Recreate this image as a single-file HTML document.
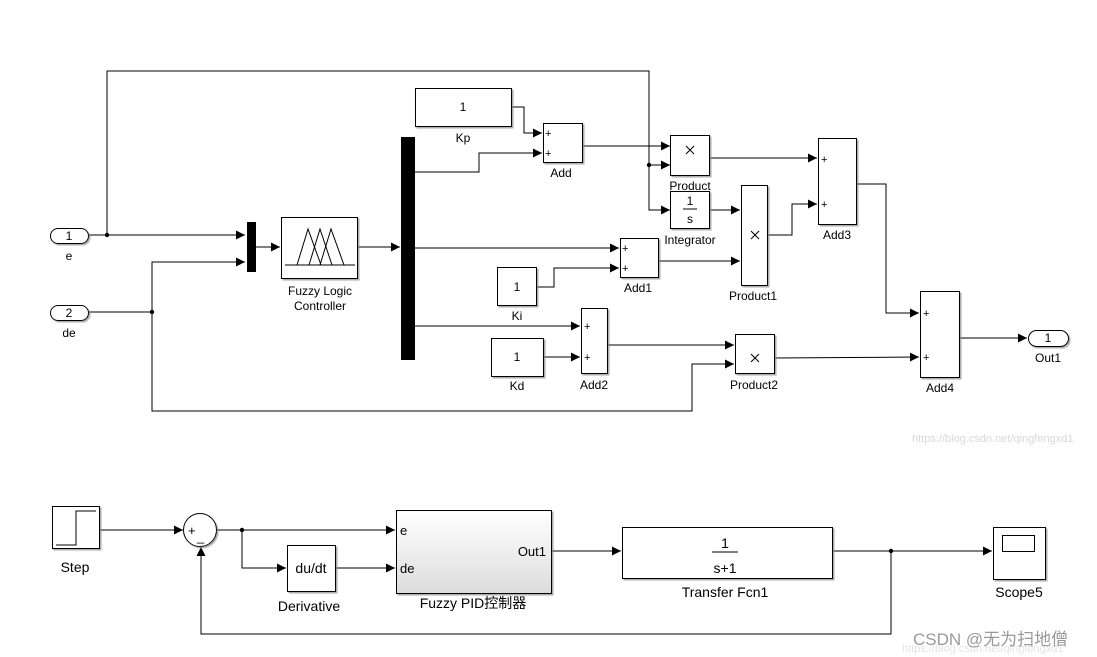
<!DOCTYPE html>
<html><head><meta charset="utf-8"><style>
html,body{margin:0;padding:0;background:#fff;}
svg{display:block;}
text{font-family:"Liberation Sans","Noto Sans CJK SC",sans-serif;fill:#000;}
</style></head><body>
<svg width="1097" height="657" viewBox="0 0 1097 657" xmlns="http://www.w3.org/2000/svg" font-size="12">
<defs>
<marker id="a" markerUnits="userSpaceOnUse" markerWidth="10" markerHeight="10" refX="9" refY="5" orient="auto">
<path d="M0,0.5 L9,5 L0,9.5 Z" fill="#000"/></marker>
<filter id="sh" x="-10%" y="-10%" width="130%" height="130%"><feDropShadow dx="1.5" dy="1.5" stdDeviation="0.6" flood-color="#888" flood-opacity="0.7"/></filter>
<linearGradient id="g" x1="0" y1="0" x2="0" y2="1"><stop offset="0" stop-color="#fff"/><stop offset="1" stop-color="#dcdcdc"/></linearGradient>
</defs>
<g fill="none" stroke="#000" stroke-width="1">
<polyline points="88,235 245,235" marker-end="url(#a)"/>
<polyline points="107,235 107,71 649,71 649,210 670,210" marker-end="url(#a)"/>
<polyline points="649,165 670,165" marker-end="url(#a)"/>
<polyline points="88,312 152,312"/>
<polyline points="152,312 152,262 245,262" marker-end="url(#a)"/>
<polyline points="152,312 152,411 692,411 692,364 734,364" marker-end="url(#a)"/>
<polyline points="256,247 280,247" marker-end="url(#a)"/>
<polyline points="358,247 400,247" marker-end="url(#a)"/>
<polyline points="511,107 524,107 524,133 542,133" marker-end="url(#a)"/>
<polyline points="415,172 479,172 479,153 542,153" marker-end="url(#a)"/>
<polyline points="582,146 670,146" marker-end="url(#a)"/>
<polyline points="709,158 817,158" marker-end="url(#a)"/>
<polyline points="709,210 740,210" marker-end="url(#a)"/>
<polyline points="415,248 619,248" marker-end="url(#a)"/>
<polyline points="536,287 554,287 554,268 619,268" marker-end="url(#a)"/>
<polyline points="658,261 740,261" marker-end="url(#a)"/>
<polyline points="767,235 792,235 792,204 817,204" marker-end="url(#a)"/>
<polyline points="856,184 886,184 886,313 919,313" marker-end="url(#a)"/>
<polyline points="415,326 580,326" marker-end="url(#a)"/>
<polyline points="543,357 580,357" marker-end="url(#a)"/>
<polyline points="607,345 734,345" marker-end="url(#a)"/>
<polyline points="774,358 919,357" marker-end="url(#a)"/>
<polyline points="959,338 1027,338" marker-end="url(#a)"/>
<polyline points="99,530 183,530" marker-end="url(#a)"/>
<polyline points="217,530 395,530" marker-end="url(#a)"/>
<polyline points="242,530 242,568 286,568" marker-end="url(#a)"/>
<polyline points="335,568 395,568" marker-end="url(#a)"/>
<polyline points="551,551 621,551" marker-end="url(#a)"/>
<polyline points="832,551 992,551" marker-end="url(#a)"/>
<polyline points="891,551 891,634 201,634 201,547" marker-end="url(#a)"/>
</g>
<g fill="#000">
<circle cx="107" cy="235" r="2.2"/><circle cx="152" cy="312" r="2.2"/><circle cx="649" cy="165" r="2.2"/>
<circle cx="242" cy="530" r="2.2"/><circle cx="891" cy="551" r="2.2"/>
<rect x="247" y="222" width="9" height="50"/>
<rect x="401" y="137" width="14" height="223"/>
</g>
<g fill="#fff" stroke="#000" stroke-width="1" filter="url(#sh)">
<rect x="50.5" y="228.5" width="38" height="15" rx="7.5"/>
<rect x="50.5" y="305.5" width="38" height="15" rx="7.5"/>
<rect x="281.5" y="217.5" width="76" height="61"/>
<rect x="415.5" y="88.5" width="96" height="38"/>
<rect x="543.5" y="123.5" width="39" height="39"/>
<rect x="670.5" y="135.5" width="39" height="40"/>
<rect x="670.5" y="191.5" width="39" height="37"/>
<rect x="741.5" y="185.5" width="26" height="100"/>
<rect x="620.5" y="238.5" width="38" height="39"/>
<rect x="497.5" y="267.5" width="39" height="38"/>
<rect x="818.5" y="138.5" width="38" height="86"/>
<rect x="920.5" y="291.5" width="39" height="86"/>
<rect x="1028.5" y="330.5" width="40" height="16" rx="8"/>
<rect x="581.5" y="308.5" width="26" height="65"/>
<rect x="491.5" y="338.5" width="52" height="38"/>
<rect x="735.5" y="334.5" width="39" height="39"/>
<rect x="52.5" y="506.5" width="47" height="42"/>
<circle cx="200" cy="530" r="16.5"/>
<rect x="287.5" y="545.5" width="48" height="46"/>
<rect x="396.5" y="510.5" width="155" height="83" fill="url(#g)"/>
<rect x="622.5" y="527.5" width="210" height="51"/>
<rect x="993.5" y="527.5" width="52" height="52"/>
</g>
<g fill="none" stroke="#000" stroke-width="1">
<line x1="285" y1="265" x2="355" y2="265"/>
<polyline points="297,265 308,229 321,265"/>
<polyline points="309,265 320,229 332,265"/>
<polyline points="320,265 331,229 344,265"/>
<line x1="683" y1="209" x2="697" y2="209"/>
<line x1="712" y1="552" x2="738" y2="552"/>
<polyline points="56,545 76,545 76,511 96,511"/>
<rect x="1002.5" y="535.5" width="32" height="16"/>
<path d="M686,146 l8,8 M694,146 l-8,8"/>
<path d="M751,231 l8,8 M759,231 l-8,8"/>
<path d="M751,354 l8,8 M759,354 l-8,8"/>
</g>
<g text-anchor="middle">
<text x="69" y="240">1</text><text x="69" y="260">e</text>
<text x="69" y="317">2</text><text x="69" y="337">de</text>
<text x="320" y="295">Fuzzy Logic</text><text x="320" y="310">Controller</text>
<text x="463" y="111">1</text><text x="463" y="142">Kp</text>
<text x="561" y="177">Add</text>
<text x="690" y="190">Product</text>
<text x="690" y="205">1</text><text x="690" y="223">s</text>
<text x="690" y="244">Integrator</text>
<text x="753" y="300">Product1</text>
<text x="638" y="292">Add1</text>
<text x="517" y="291">1</text><text x="517" y="320">Ki</text>
<text x="837" y="239">Add3</text>
<text x="940" y="392">Add4</text>
<text x="1048" y="342">1</text><text x="1048" y="362">Out1</text>
<text x="594" y="389">Add2</text>
<text x="517" y="361">1</text><text x="517" y="390">Kd</text>
<text x="754" y="389">Product2</text>
<text x="75" y="572" font-size="14">Step</text>
<text x="311" y="573" font-size="14">du/dt</text>
<text x="309" y="611" font-size="14">Derivative</text>
<text x="473" y="608" font-size="14">Fuzzy PID控制器</text>
<text x="725" y="548" font-size="14">1</text>
<text x="725" y="573" font-size="14">s+1</text>
<text x="725" y="597" font-size="14">Transfer Fcn1</text>
<text x="1019" y="597" font-size="14">Scope5</text>
</g>
<g font-size="11">
<text x="545" y="137">+</text><text x="545" y="157">+</text>
<text x="622" y="252">+</text><text x="622" y="272">+</text>
<text x="584" y="330">+</text><text x="584" y="361">+</text>
<text x="821" y="163">+</text><text x="821" y="208">+</text>
<text x="923" y="317">+</text><text x="923" y="361">+</text>
<text x="188" y="535" font-size="13">+</text><text x="197" y="541" font-size="13">_</text>
</g>
<text x="400" y="535" font-size="13">e</text>
<text x="400" y="573" font-size="13">de</text>
<text x="546" y="556" font-size="13" text-anchor="end">Out1</text>
<text x="912" y="442" font-size="11" style="fill:#d8d8d8">https://blog.csdn.net/qingfengxd1</text>
<text x="902" y="652" font-size="11" style="fill:#e4e4e4">https://blog.csdn.net/qingfengxd1</text>
<text x="913" y="645" font-size="17" style="fill:#9a9a9a">CSDN @无为扫地僧</text>
</svg>
</body></html>
